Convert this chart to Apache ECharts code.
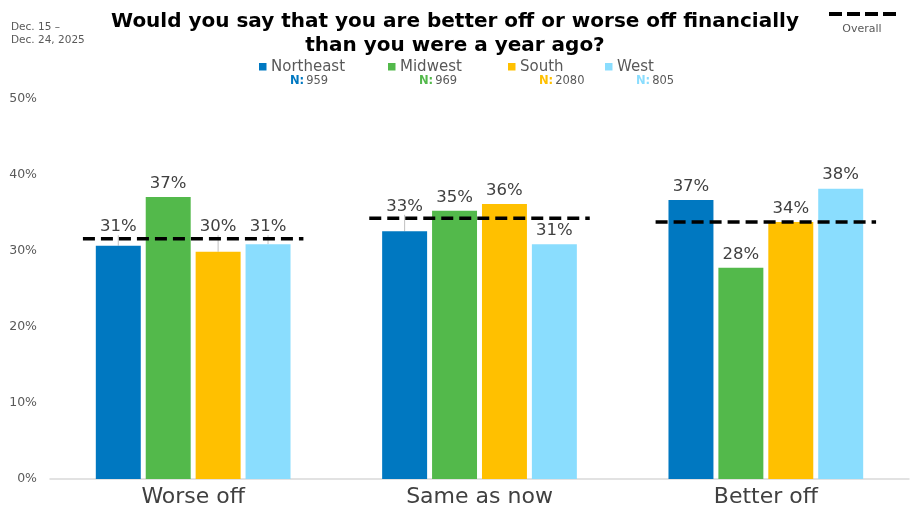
<!DOCTYPE html>
<html><head><meta charset="utf-8">
<script src="https://cdn.jsdelivr.net/npm/echarts@6/dist/echarts.min.js"></script>
<style>html,body{margin:0;padding:0;background:#fff}#c{width:911px;height:525px}</style>
</head><body><div id="c"></div>
<script>
const categories = ['Worse off', 'Same as now', 'Better off'];
const regions = ['Northeast', 'Midwest', 'South', 'West'];
const sampleSizes = [959, 969, 2080, 805];
const northeast = [30.7, 32.6, 36.7];
const midwest = [37.1, 35.3, 27.8];
const south = [29.9, 36.2, 33.8];
const west = [30.9, 30.9, 38.2];
const overall = [31.6, 34.3, 33.8];
const yTicks = [0, 10, 20, 30, 40, 50];
const colors = ['#0078C1', '#53B94B', '#FFC000', '#8ADDFE'];
const FONT = 'DejaVu Sans';

const seriesValues = [northeast, midwest, south, west];
const chart = echarts.init(document.getElementById('c'));

function lineY(i) {
  return chart.convertToPixel({ gridIndex: 0 }, [i, overall[i]])[1];
}

const barSeries = regions.map((r, i) => ({
  name: r,
  type: 'bar',
  data: seriesValues[i].map((v, di) => ({
    value: v,
    labelLine: { show: v < overall[di] && v > overall[di] - 3 }
  })),
  barCategoryGap: '32%',
  barGap: '11%',
  itemStyle: { color: colors[i] },
  label: {
    show: true, position: 'top', distance: 5,
    formatter: p => Math.round(p.value) + '%',
    fontFamily: FONT, fontSize: 16.5, color: '#404040'
  },
  labelLine: { show: false, lineStyle: { color: '#BFBFBF', width: 1 } },
  labelLayout: p => {
    const di = p.dataIndex;
    const v = seriesValues[i][di];
    if (v >= overall[di]) return {};
    let ly;
    try { ly = lineY(di); } catch (e) { return {}; }
    const cy = p.labelRect.y + p.labelRect.height / 2;
    if (cy < ly + 10) {
      const target = Math.min(cy, ly - 12);
      return { dy: target - cy };
    }
    return {};
  },
  z: 2
}));

const overallSeries = {
  name: 'Overall',
  type: 'custom',
  data: overall.map((v, i) => [i, v]),
  z: 5,
  renderItem: (params, api) => {
    const c = api.coord([api.value(0), api.value(1)]);
    const w = api.size([1, 0])[0] * 0.77;
    return {
      type: 'line',
      shape: { x1: c[0] - w / 2, y1: c[1], x2: c[0] + w / 2, y2: c[1] },
      style: { stroke: '#000', lineWidth: 3.5, lineDash: [12, 6] }
    };
  }
};

const legendX = [259, 388, 508, 605];
const graphics = [
  { type: 'text', left: 11, top: 21, style: { text: 'Dec. 15 –\nDec. 24, 2025', fontFamily: FONT, fontSize: 10.5, lineHeight: 13, fill: '#595959' } },
  { type: 'text', x: 455, y: 10, style: { text: 'Would you say that you are better off or worse off financially\nthan you were a year ago?', fontFamily: FONT, fontSize: 20, fontWeight: 'bold', lineHeight: 24, fill: '#000', align: 'center', verticalAlign: 'top' } },
  { type: 'line', shape: { x1: 829, y1: 14, x2: 896, y2: 14 }, style: { stroke: '#000', lineWidth: 4, lineDash: [13, 5] } },
  { type: 'text', x: 862, y: 29, style: { text: 'Overall', fontFamily: FONT, fontSize: 11, fill: '#595959', align: 'center', verticalAlign: 'middle' } }
];
regions.forEach((r, i) => {
  const x = legendX[i];
  graphics.push({ type: 'rect', shape: { x: x, y: 63, width: 7.5, height: 7.5 }, style: { fill: colors[i] } });
  graphics.push({ type: 'text', x: x + 12, y: 67, style: { text: r, fontFamily: FONT, fontSize: 15, fill: '#595959', verticalAlign: 'middle' } });
  graphics.push({ type: 'text', x: x + 31, y: 81, style: {
    text: '{n|N:}{v|' + sampleSizes[i] + '}', verticalAlign: 'middle',
    rich: { n: { fontFamily: FONT, fontSize: 11.5, fontWeight: 'bold', fill: colors[i], padding: [0, 2, 0, 0] }, v: { fontFamily: FONT, fontSize: 11.5, fill: '#595959' } }
  } });
});

chart.setOption({
  animation: false,
  grid: { left: 50, right: 2, top: 99, bottom: 46 },
  xAxis: {
    type: 'category', data: categories,
    axisLine: { lineStyle: { color: '#D9D9D9', width: 1.5 } },
    axisTick: { show: false },
    axisLabel: { fontFamily: FONT, fontSize: 22, color: '#404040', margin: 7 }
  },
  yAxis: {
    type: 'value', min: yTicks[0], max: yTicks[yTicks.length - 1], interval: 10,
    splitLine: { show: false },
    axisLabel: { formatter: '{value}%', fontFamily: FONT, fontSize: 12.5, color: '#595959', margin: 13 }
  },
  series: [...barSeries, overallSeries],
  graphic: graphics
});
</script></body></html>
